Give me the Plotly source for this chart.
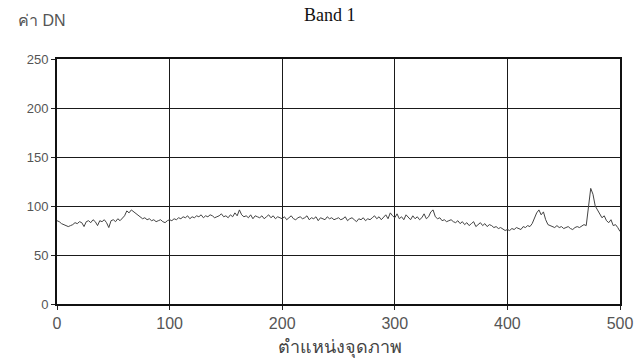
import plotly.graph_objects as go

# pixel positions (step 2) and DN values
positions = list(range(0, 501, 2))
dn_values = [
    85, 84, 82, 81, 80, 79, 80, 81, 83, 82, 84, 83, 79, 84, 85, 83, 86, 84, 80, 85, 84, 86, 83, 78, 85,
    86, 84, 87, 85, 88, 90, 95, 93, 96, 94, 92, 90, 88, 87, 88, 86, 87, 85, 86, 84, 85, 86, 84, 83, 85,
    86, 85, 87, 86, 88, 87, 89, 88, 90, 87, 89, 88, 90, 89, 91, 88, 90, 89, 91, 90, 88, 89, 90, 92, 89,
    90, 88, 91, 89, 93, 90, 96, 91, 89, 90, 88, 91, 87, 90, 89, 88, 90, 87, 89, 91, 88, 90, 87, 89, 88,
    87, 89, 86, 88, 90, 87, 86, 88, 89, 87, 88, 90, 86, 88, 87, 89, 85, 88, 87, 86, 89, 87, 88, 86, 87,
    88, 86, 87, 89, 85, 87, 88, 86, 84, 87, 86, 88, 85, 87, 86, 88, 90, 87, 89, 86, 88, 91, 87, 93, 90,
    88, 92, 87, 89, 86, 91, 88, 86, 90, 87, 89, 86, 88, 92, 87, 89, 94, 96, 89, 87, 88, 85, 86, 84, 85,
    86, 84, 83, 85, 82, 84, 81, 83, 80, 82, 84, 79, 81, 83, 80, 82, 79, 81, 80, 78, 79, 77, 78, 76, 75,
    76, 75, 77, 76, 78, 77, 76, 79, 78, 80, 79, 82, 88, 93, 96, 91, 94, 86, 81, 80, 79, 78, 80, 78, 79,
    77, 78, 79, 77, 76, 78, 79, 78, 80, 81, 80, 100, 118, 112, 100, 96, 92, 88, 90, 85, 83, 86, 80, 81, 78,
    74, 80,
]
x_ticks = [0, 100, 200, 300, 400, 500]
y_ticks = [0, 50, 100, 150, 200, 250]

title_text = "Band 1"
y_title = "ค่า DN"
x_title = "ตำแหน่งจุดภาพ"

L, R, T, B = 57, 14, 59, 57
W, H = 634, 361
pw = W - L - R
ph = H - T - B


def px(xp):
    return (xp - L) / pw


def py(yp):
    return (H - B - yp) / ph


fig = go.Figure()
fig.add_trace(go.Scatter(
    x=positions[:len(dn_values)], y=dn_values, mode="lines",
    line=dict(color="#444444", width=1), showlegend=False,
))

fig.update_layout(
    width=W, height=H,
    margin=dict(l=L, r=R, t=T, b=B, autoexpand=False),
    paper_bgcolor="white", plot_bgcolor="white",
    xaxis=dict(
        range=[0, 500], tickvals=x_ticks, ticks="outside", ticklen=4, tickcolor="#222",
        showgrid=True, gridcolor="#1a1a1a", gridwidth=1.3,
        showline=True, linecolor="#111", linewidth=2, mirror=True, automargin=False,
        zeroline=False, tickfont=dict(family="Liberation Sans, Arial, sans-serif", size=16, color="#555"),
    ),
    yaxis=dict(
        range=[0, 250], tickvals=y_ticks, ticks="outside", ticklen=4, tickcolor="#222",
        showgrid=True, gridcolor="#1a1a1a", gridwidth=1.3,
        showline=True, linecolor="#111", linewidth=2, mirror=True, automargin=False,
        zeroline=False, tickfont=dict(family="Liberation Sans, Arial, sans-serif", size=13, color="#555"),
    ),
    annotations=[
        dict(text=title_text, x=px(330), y=py(15), xref="paper", yref="paper", showarrow=False,
             xanchor="center", yanchor="middle",
             font=dict(family="Liberation Serif, Times New Roman, serif", size=18, color="#111")),
        dict(text=y_title, x=px(42), y=py(21), xref="paper", yref="paper", showarrow=False,
             xanchor="center", yanchor="middle",
             font=dict(family="Liberation Sans, Arial, sans-serif", size=16, color="#555")),
        dict(text=x_title, x=px(340), y=py(347), xref="paper", yref="paper", showarrow=False,
             xanchor="center", yanchor="middle",
             font=dict(family="Liberation Sans, Arial, sans-serif", size=18, color="#444")),
    ],
)

fig.write_html("out.html")
